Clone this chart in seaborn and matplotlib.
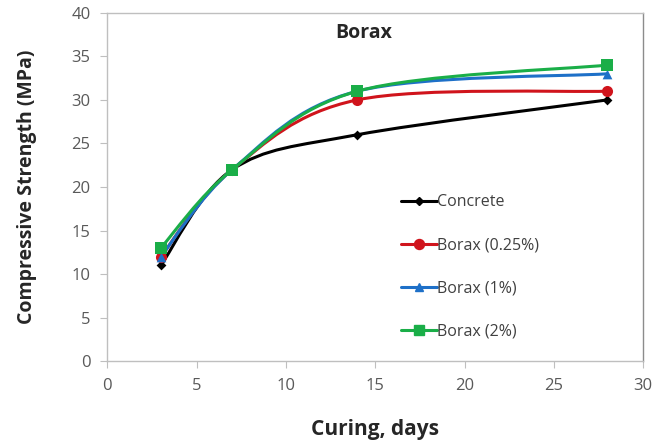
import numpy as np
import pandas as pd
import matplotlib
matplotlib.use("Agg")
import matplotlib.pyplot as plt
from matplotlib.path import Path
from matplotlib.patches import PathPatch
from matplotlib.lines import Line2D
import seaborn as sns

days = [3, 7, 14, 28]
concrete = [11, 22, 26, 30]
borax_025 = [12, 22, 30, 31]
borax_1 = [12, 22, 31, 33]
borax_2 = [13, 22, 31, 34]

series_names = ["Concrete", "Borax (0.25%)", "Borax (1%)", "Borax (2%)"]
colors = ["#000000", "#d0141c", "#1e70c8", "#1aae48"]
markers = ["D", "o", "^", "s"]
msizes = [5, 8, 7, 8]

sns.set_style("white")
plt.rcParams["font.family"] = ["Open Sans", "DejaVu Sans"]


def smooth_path(xs, ys):
    # Excel-style smoothed line: cubic Bezier segments through the points
    pts = np.column_stack([xs, ys]).astype(float)
    n = len(pts)
    verts = [pts[0]]
    codes = [Path.MOVETO]
    for i in range(n - 1):
        p0 = pts[i - 1] if i > 0 else pts[i]
        p1 = pts[i]
        p2 = pts[i + 1]
        p3 = pts[i + 2] if i + 2 < n else pts[i + 1]
        c1 = p1 + (p2 - p0) / 6.0
        c2 = p2 - (p3 - p1) / 6.0
        verts += [c1, c2, p2]
        codes += [Path.CURVE4] * 3
    return Path(verts, codes)


fig, ax = plt.subplots(figsize=(6.7, 4.42), dpi=100)
fig.subplots_adjust(left=0.160, right=0.960, top=0.971, bottom=0.183)

all_series = [concrete, borax_025, borax_1, borax_2]
rows = []
for name, vals in zip(series_names, all_series):
    for d, v in zip(days, vals):
        rows.append({"Curing": d, "Strength": v, "Mix": name})
df = pd.DataFrame(rows)

for name, vals, c in zip(series_names, all_series, colors):
    ax.add_patch(PathPatch(smooth_path(days, vals), facecolor="none",
                           edgecolor=c, lw=2.2, zorder=2))

for name, c, m, ms in zip(series_names, colors, markers, msizes):
    sub = df[df["Mix"] == name]
    sns.scatterplot(data=sub, x="Curing", y="Strength", color=c, marker=m,
                    s=ms ** 2, edgecolor=c, linewidth=0, ax=ax, zorder=3,
                    legend=False)

ax.set_xlim(0, 30)
ax.set_ylim(0, 40)
ax.set_xticks(range(0, 31, 5))
ax.set_yticks(range(0, 41, 5))
ax.tick_params(axis="both", labelsize=12, labelcolor="#595959", length=5,
               color="#bfbfbf", direction="out", bottom=True, left=True,
               pad=7)
for s in ax.spines.values():
    s.set_color("#bfbfbf")
    s.set_linewidth(1.0)
ax.spines["right"].set_color("#8c8c8c")

ax.set_xlabel("Curing, days", fontsize=15, fontweight="bold", labelpad=18)
ax.set_ylabel("Compressive Strength (MPa)", fontsize=14, fontweight="bold",
              labelpad=25)
ax.text(0.478, 0.943, "Borax", transform=ax.transAxes, fontsize=14,
        fontweight="bold", ha="center", va="center")

handles = [Line2D([0], [0], color=c, lw=2.2, marker=m, markersize=ms * 0.9)
           for c, m, ms in zip(colors, markers, msizes)]
ax.legend(handles, series_names, loc="upper left",
          bbox_to_anchor=(0.522, 0.52), frameon=False, fontsize=11.5,
          labelspacing=1.7, handlelength=2.2, handletextpad=0.05,
          labelcolor="#404040")

fig.savefig("out.png", dpi=100)
